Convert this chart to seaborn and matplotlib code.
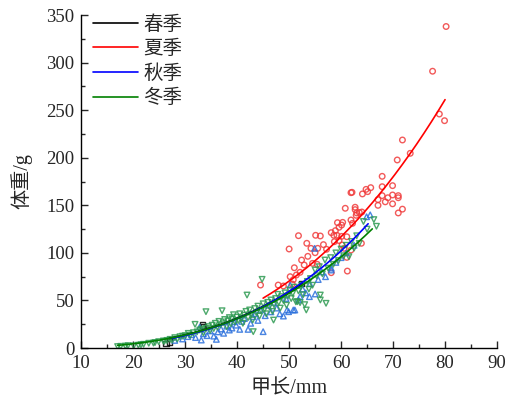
import numpy as np
import pandas as pd
import matplotlib
matplotlib.use("Agg")
import matplotlib.pyplot as plt
import seaborn as sns

seasons = ["春季", "夏季", "秋季", "冬季"]
line_colors = {"春季": "#000000", "夏季": "#ff0000", "秋季": "#0000ff", "冬季": "#008000"}
point_colors = {"春季": "#000000", "夏季": "#f03c3c", "秋季": "#2a6fdc", "冬季": "#2e9a52"}
markers = {"春季": "s", "夏季": "o", "秋季": "^", "冬季": "v"}

# Spring (春季)
spring_L = [26.3, 27.0, 33.5, 33.3, 52.4]
spring_W = [4.9, 6.5, 22.4, 24.0, 68.0]

# Summer (夏季)
summer_L = [44.5, 47.9, 48.9, 50.2, 50.6, 50.8, 51.0, 51.4, 52.1, 52.4, 52.9, 53.4, 53.6, 54.2,
            54.5, 55.0, 55.1, 55.4, 55.5, 50.0, 51.8, 56.0, 56.6, 57.2, 58.1, 58.1, 58.6, 58.7,
            58.9, 59.2, 59.3, 59.6, 59.6, 60.1, 60.1, 60.2, 60.3, 60.6, 60.8, 61.1, 61.1, 61.2,
            61.9, 61.9, 61.9, 62.1, 62.2, 62.7, 62.7, 62.9, 63.0, 63.5, 63.9, 64.0, 64.1, 64.8,
            65.1, 65.7, 67.1, 67.1, 67.9, 67.9, 67.9, 68.5, 69.0, 69.9, 69.9, 69.9, 70.8, 71.0,
            71.0, 71.0, 71.8, 71.8, 73.3, 77.6, 78.9, 79.9, 80.2]
summer_W = [66.2, 66.2, 65.2, 75.0, 67.3, 71.8, 84.4, 76.8, 79.6, 92.5, 87.3, 110.1, 96.4, 104.8,
            89.0, 100.2, 118.5, 88.0, 104.8, 104.1, 118.1, 117.8, 108.7, 103.8, 121.3, 79.2, 118.5, 111.8,
            123.4, 118.5, 131.8, 126.9, 113.0, 129.3, 117.4, 108.3, 132.1, 104.8, 146.9, 117.0, 95.3, 80.9,
            134.6, 103.0, 163.3, 163.7, 131.1, 148.0, 145.5, 139.5, 142.0, 142.5, 110.1, 143.0, 162.0, 166.8,
            164.4, 168.6, 156.0, 150.0, 180.5, 169.6, 160.2, 153.7, 158.0, 170.7, 160.9, 151.6, 197.7, 160.2,
            158.0, 142.0, 218.7, 146.0, 204.7, 291.0, 246.0, 239.0, 338.0]

# Autumn (秋季)
autumn_L = [28.0, 29.5, 30.5, 31.2, 32.0, 32.8, 33.1, 33.5, 34.2, 34.8, 35.5, 36.0, 36.3, 36.9,
            37.4, 38.0, 38.5, 39.0, 39.4, 39.8, 40.5, 40.9, 41.4, 42.1, 42.6, 43.0, 43.5, 44.0,
            44.5, 45.0, 45.4, 45.9, 46.5, 47.0, 47.6, 48.2, 48.9, 49.4, 49.6, 49.9, 50.2, 50.8,
            51.1, 51.8, 52.1, 52.6, 53.2, 53.9, 54.0, 54.9, 55.0, 55.6, 56.3, 57.0, 58.1, 58.1,
            59.0, 60.0, 61.0, 62.5, 64.9, 65.6]
autumn_W = [8.0, 9.5, 12.0, 14.0, 11.0, 22.0, 8.4, 15.0, 13.0, 18.0, 12.5, 9.1, 17.0, 20.0,
            15.5, 23.0, 18.9, 21.0, 27.7, 24.0, 19.6, 28.0, 31.0, 19.6, 26.0, 33.0, 36.0, 29.0,
            40.0, 17.2, 34.0, 45.0, 38.0, 48.0, 42.0, 36.0, 33.6, 52.0, 40.0, 38.2, 66.0, 40.0,
            40.0, 50.5, 54.0, 62.0, 58.0, 54.0, 67.5, 104.8, 56.8, 72.0, 80.0, 75.0, 82.0, 84.0,
            90.0, 95.0, 100.0, 108.0, 138.0, 140.0]

# Winter (冬季)
winter_L = [17.0, 17.6, 18.5, 19.0, 20.1, 21.0, 21.5, 22.0, 23.0, 23.9, 24.2, 24.9, 25.8, 26.0,
            26.5, 27.1, 27.5, 28.0, 28.5, 29.0, 29.5, 30.0, 30.6, 31.0, 31.6, 31.9, 32.3, 32.8,
            33.2, 33.5, 34.0, 34.1, 34.5, 34.8, 35.2, 35.5, 35.8, 36.2, 36.5, 36.8, 37.1, 37.3,
            37.6, 38.0, 38.2, 38.5, 38.8, 39.0, 39.3, 39.6, 39.9, 40.2, 40.5, 40.8, 41.1, 41.4,
            41.7, 41.9, 42.1, 42.4, 42.7, 43.0, 43.1, 43.4, 43.7, 44.0, 44.3, 44.6, 44.8, 45.0,
            45.3, 45.6, 45.9, 46.2, 46.5, 46.8, 47.0, 47.1, 47.4, 47.8, 48.0, 48.3, 48.6, 48.9,
            49.2, 49.5, 49.8, 50.1, 50.4, 50.7, 51.0, 51.3, 51.6, 51.8, 52.1, 52.4, 52.7, 53.0,
            53.3, 53.5, 53.8, 54.1, 54.5, 55.0, 55.3, 55.8, 56.0, 56.0, 56.4, 56.9, 57.1, 57.5,
            58.0, 58.5, 59.0, 59.5, 60.0, 60.5, 61.0, 61.5, 62.0, 62.5, 63.0, 63.5, 64.3, 65.0,
            66.3, 66.8]
winter_W = [1.5, 1.8, 2.0, 2.5, 2.3, 3.0, 3.5, 3.9, 5.0, 5.2, 5.8, 6.7, 7.4, 7.0,
            8.0, 9.1, 8.5, 10.9, 9.5, 11.9, 12.5, 13.0, 15.4, 13.5, 16.1, 24.9, 17.0, 18.9,
            20.0, 16.0, 38.2, 20.7, 22.5, 18.5, 24.0, 20.5, 26.0, 22.0, 28.0, 24.5, 39.2, 26.5,
            30.0, 22.5, 28.5, 32.0, 25.5, 30.5, 35.0, 27.5, 32.5, 29.0, 36.0, 31.5, 26.0, 34.5,
            38.5, 55.7, 32.0, 40.0, 35.5, 29.5, 17.2, 41.5, 37.0, 44.0, 33.5, 39.5, 72.2, 46.5,
            41.0, 36.0, 48.0, 43.5, 50.5, 38.5, 29.4, 45.5, 52.0, 56.4, 48.0, 42.0, 54.0, 50.0,
            58.0, 45.0, 55.0, 61.0, 52.0, 57.5, 64.0, 48.5, 48.7, 60.0, 47.7, 66.0, 56.0, 45.6,
            40.0, 70.0, 62.0, 73.0, 66.0, 82.0, 76.0, 85.5, 50.5, 55.7, 78.0, 92.5, 47.0, 84.0,
            95.0, 88.0, 100.0, 92.0, 104.0, 97.0, 108.0, 96.0, 112.0, 105.0, 118.0, 110.0, 133.0, 125.0,
            135.0, 128.0]

# Fitted power curves W = a * L^b, with fitted length ranges
fit_a = [0.00085, 0.00128, 0.000557, 0.001007]
fit_b = [2.85, 2.79, 2.96, 2.80]
fit_min = [27.0, 45.0, 27.5, 17.0]
fit_max = [52.5, 80.0, 65.2, 66.0]

frames = []
for s, L, W in zip(seasons, [spring_L, summer_L, autumn_L, winter_L],
                   [spring_W, summer_W, autumn_W, winter_W]):
    frames.append(pd.DataFrame({"L": L, "W": W, "season": s}))
pts = pd.concat(frames, ignore_index=True)

sns.set_style("ticks")
plt.rcParams["font.family"] = ["Liberation Serif", "Noto Sans CJK SC"]
plt.rcParams["axes.unicode_minus"] = False

fig = plt.figure(figsize=(5.14, 4.08), dpi=100)
ax = fig.add_axes([0.158, 0.147, 0.809, 0.816])

for s in ["春季", "夏季", "秋季", "冬季"]:
    d = pts[pts["season"] == s]
    sns.scatterplot(data=d, x="L", y="W", ax=ax, marker=markers[s], s=16,
                    facecolors="none", edgecolor=point_colors[s], linewidth=1.0,
                    alpha=0.85, legend=False, zorder=2)

for i, s in enumerate(seasons):
    xx = np.linspace(fit_min[i], fit_max[i], 200)
    yy = fit_a[i] * xx ** fit_b[i]
    cur = pd.DataFrame({"L": xx, "W": yy})
    sns.lineplot(data=cur, x="L", y="W", ax=ax, color=line_colors[s], linewidth=1.2,
                 label=s, zorder=3)

ax.set_xlim(10, 90)
ax.set_ylim(0, 350)
ax.set_xticks(np.arange(10, 91, 10))
ax.set_yticks(np.arange(0, 351, 50))
ax.set_xticks(np.arange(15, 90, 10), minor=True)
ax.set_yticks(np.arange(25, 350, 50), minor=True)
ax.tick_params(which="major", direction="in", length=5, width=1, labelsize=13.5, pad=5)
ax.tick_params(which="minor", direction="in", length=3, width=1)
for sp in ["left", "bottom"]:
    ax.spines[sp].set_linewidth(1.0)
    ax.spines[sp].set_color("black")
ax.spines["top"].set_visible(False)
ax.spines["right"].set_visible(False)

ax.set_xlabel("甲长/mm", fontsize=14.5, labelpad=5)
ax.set_ylabel("体重/g", fontsize=14.5, labelpad=10)

leg = ax.legend(loc="upper left", bbox_to_anchor=(0.0, 1.035), frameon=False,
                fontsize=14, handlelength=2.3, handletextpad=0.3, labelspacing=0.32,
                borderaxespad=0.2)

fig.savefig("out.png", dpi=100)
